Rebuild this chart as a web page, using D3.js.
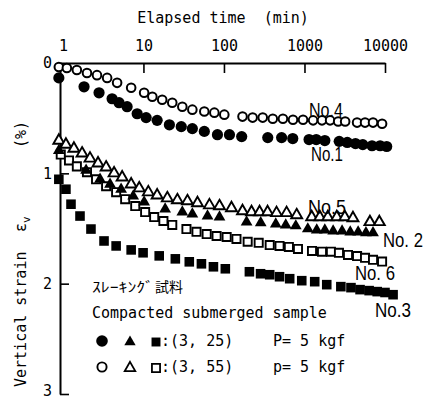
<!DOCTYPE html>
<html>
<head>
<meta charset="utf-8">
<script src="https://cdn.jsdelivr.net/npm/d3@7"></script>
<style>
  html, body { margin: 0; padding: 0; background: #fff; }
  svg { display: block; }
  .mono { font-family: "DejaVu Sans Mono", monospace; font-size: 15px; fill: #000; }
  .tag { font-family: "Liberation Sans", Arial, sans-serif; font-size: 20px; fill: #000; }
</style>
</head>
<body>
<svg id="chart" width="427" height="401"></svg>
<script>
// Elapsed time (min) and vertical strain (%) for each test
const timeNo4 = [0.89,1.12,1.49,1.99,2.65,3.54,4.71,7.04,10.2,12.9,17.1,22.8,30.4,40.5,57,76,101,170,227,303,404,540,720,960,1280,1650,2080,2620,3200,4500,5650,7100,9200];
const strainNo4 = [0.036,0.045,0.063,0.09,0.11,0.135,0.18,0.225,0.27,0.306,0.333,0.36,0.396,0.423,0.44,0.45,0.468,0.486,0.495,0.495,0.505,0.505,0.514,0.514,0.52,0.52,0.52,0.53,0.53,0.54,0.54,0.54,0.55];

const timeNo1 = [0.89,1.83,2.81,4.08,4.98,6.27,8.36,10.8,14.8,21,29.5,40.5,57,83,117,166,350,520,715,1140,1400,1790,2700,3400,4300,5300,6900,8700,10500];
const strainNo1 = [0.135,0.216,0.27,0.324,0.36,0.396,0.46,0.495,0.52,0.56,0.577,0.595,0.62,0.65,0.65,0.667,0.676,0.676,0.685,0.694,0.694,0.703,0.71,0.72,0.73,0.74,0.75,0.75,0.757];

const timeNo5 = [0.89,1.09,1.37,1.73,2.17,2.73,3.44,4.32,5.44,7.04,8.87,11.5,14.8,19.8,26.4,35.2,46.9,66,88,124,170,220,277,348,450,600,800,1230,1550,1950,2520,3170,4000,6500,8500];
const strainNo5 = [0.694,0.73,0.766,0.81,0.856,0.90,0.937,0.99,1.027,1.09,1.126,1.162,1.19,1.216,1.234,1.243,1.26,1.28,1.288,1.306,1.333,1.342,1.342,1.342,1.35,1.35,1.37,1.387,1.387,1.387,1.387,1.387,1.396,1.432,1.432];

const timeNo2 = [0.89,1.94,2.89,3.85,5.28,7.46,10.2,18.6,30.4,40.5,62.5,88,191,286,440,585,780,1100,1420,1790,2270,2930,3700,4640,5800,7100];
const strainNo2 = [0.784,0.964,1.045,1.09,1.135,1.198,1.252,1.315,1.342,1.36,1.378,1.387,1.432,1.44,1.45,1.46,1.468,1.495,1.505,1.505,1.514,1.514,1.523,1.523,1.53,1.53];

const timeNo6 = [0.94,1.19,1.49,1.99,2.58,3.44,4.58,5.93,7.91,10.5,13.6,17.7,22.8,34.2,45.6,61,81,108,143,197,270,370,490,640,830,1240,1650,2130,2680,3470,4500,5650,7100,9200];
const strainNo6 = [0.83,0.883,0.937,0.99,1.054,1.117,1.171,1.234,1.297,1.351,1.396,1.432,1.468,1.505,1.53,1.55,1.568,1.577,1.595,1.62,1.63,1.65,1.658,1.667,1.685,1.703,1.71,1.71,1.72,1.74,1.75,1.766,1.784,1.80];

const timeNo3 = [0.89,1.09,1.26,1.63,2.23,3.24,4.58,7.04,9.9,15.7,24.9,37.1,52.5,74,104,207,285,370,490,655,925,1340,1890,2830,3780,4900,6350,8000,10000,12600];
const strainNo3 = [1.054,1.144,1.28,1.387,1.505,1.613,1.658,1.694,1.72,1.748,1.775,1.802,1.82,1.847,1.865,1.892,1.91,1.919,1.937,1.955,1.973,1.982,2.009,2.027,2.036,2.054,2.063,2.072,2.08,2.1];

const timeTicks = [1, 10, 100, 1000, 10000];
const strainTicks = [0, 1, 2, 3];

const svg = d3.select("#chart");
svg.append("rect").attr("width", 427).attr("height", 401).attr("fill", "#fff");

const x = d3.scaleLog().domain([0.92, 10000]).range([60, 385]);
const y = d3.scaleLinear().domain([0, 3]).range([63, 394]);

// Top (time) axis, ticks pointing into the plot
const xAxis = svg.append("g")
  .attr("transform", `translate(0,${y(0)})`)
  .call(d3.axisTop(x).tickValues(timeTicks).tickFormat(d3.format("d"))
    .tickSizeInner(-10).tickSizeOuter(0).tickPadding(12));
xAxis.select(".domain").attr("stroke", "#000").attr("stroke-width", 2);
xAxis.selectAll(".tick line").attr("stroke", "#000").attr("stroke-width", 1.6)
  .filter(d => d === 1).remove();
xAxis.selectAll(".tick text").attr("class", "mono").attr("font-family", null).attr("font-size", null);

// Left (strain) axis, ticks pointing into the plot
const yAxis = svg.append("g")
  .attr("transform", `translate(${x.range()[0]},0)`)
  .call(d3.axisLeft(y).tickValues(strainTicks).tickFormat(d3.format("d"))
    .tickSizeInner(-9).tickSizeOuter(0).tickPadding(8));
yAxis.select(".domain").attr("stroke", "#000").attr("stroke-width", 2);
yAxis.selectAll(".tick line").attr("stroke", "#000").attr("stroke-width", 1.6)
  .filter(d => d === 0).remove();
yAxis.selectAll(".tick text").attr("class", "mono").attr("font-family", null).attr("font-size", null)
  .attr("dy", d => d === 3 ? "0.1em" : "0.32em");

// Axis titles
svg.append("text").attr("class", "mono")
  .attr("x", 223).attr("y", 23).attr("text-anchor", "middle")
  .attr("xml:space", "preserve")
  .text("Elapsed time  (min)");

const yTitle = svg.append("g").attr("transform", "translate(26,387) rotate(-90)");
yTitle.append("text").attr("class", "mono").attr("x", 0).attr("y", 0).text("Vertical strain");
const eps = yTitle.append("text").attr("class", "mono").attr("x", 155).attr("y", 0);
eps.append("tspan").text("ε");
eps.append("tspan").attr("dy", 4).attr("font-size", 11).text("v");
yTitle.append("text").attr("class", "mono").attr("x", 239).attr("y", 0).text("(%)");

// Marker helpers
const tri = (area) => d3.symbol().type(d3.symbolTriangle).size(area)();
const sq = (area) => d3.symbol().type(d3.symbolSquare).size(area)();

function drawSeries(times, strains, kind) {
  const pts = times.map((t, i) => [x(t), y(strains[i])]);
  const g = svg.append("g");
  if (kind === "circleFilled" || kind === "circleOpen") {
    const open = kind === "circleOpen";
    g.selectAll("circle").data(pts).join("circle")
      .attr("cx", d => d[0]).attr("cy", d => d[1])
      .attr("r", open ? 4.3 : 5.6)
      .attr("fill", open ? "#fff" : "#000")
      .attr("stroke", "#000").attr("stroke-width", open ? 2 : 0);
  } else {
    const open = kind.endsWith("Open");
    const path = kind.startsWith("tri") ? tri(open ? 52 : 60) : sq(open ? 66 : 92);
    g.selectAll("path").data(pts).join("path")
      .attr("transform", d => `translate(${d[0]},${d[1] + (kind.startsWith("tri") ? 1 : 0)})`)
      .attr("d", path)
      .attr("fill", open ? "#fff" : "#000")
      .attr("stroke", "#000").attr("stroke-width", open ? 1.9 : 0);
  }
}

drawSeries(timeNo4, strainNo4, "circleOpen");
drawSeries(timeNo1, strainNo1, "circleFilled");
drawSeries(timeNo5, strainNo5, "triOpen");
drawSeries(timeNo6, strainNo6, "sqOpen");
drawSeries(timeNo2, strainNo2, "triFilled");
drawSeries(timeNo3, strainNo3, "sqFilled");

// Curve labels, set in a horizontally condensed face
const curveTags = [
  { text: "No.4", x: 309, y: 117, w: 34 },
  { text: "No.1", x: 311, y: 161, w: 32 },
  { text: "No.5", x: 308, y: 214, w: 38 },
  { text: "No. 2", x: 383, y: 247, w: 40 },
  { text: "No. 6", x: 355, y: 280, w: 40 },
  { text: "No.3", x: 375, y: 317, w: 36 }
];
curveTags.forEach(d => {
  const t = svg.append("text").attr("class", "tag")
    .attr("xml:space", "preserve").text(d.text);
  const natural = t.node().getComputedTextLength();
  t.attr("transform", `translate(${d.x},${d.y}) scale(${d.w / natural},1)`);
});

// Legend
const kana = svg.append("text")
  .attr("font-family", "'Noto Sans CJK JP', sans-serif").attr("font-size", 14)
  .text("ｽﾚｰｷﾝｸﾞ");
kana.attr("transform", `translate(92,292) scale(${62 / kana.node().getComputedTextLength()},1)`);
svg.append("text")
  .attr("x", 155).attr("y", 292)
  .attr("font-family", "'Noto Sans CJK JP', sans-serif").attr("font-size", 14)
  .text("試料");

svg.append("text").attr("class", "mono").attr("x", 92).attr("y", 318)
  .text("Compacted submerged sample");

const legendRows = [
  { y: 341, open: false, ratio: ":(3, 25)", load: "P= 5 kgf" },
  { y: 367, open: true, ratio: ":(3, 55)", load: "p= 5 kgf" }
];
legendRows.forEach(r => {
  const g = svg.append("g");
  g.append("circle").attr("cx", 102).attr("cy", r.y)
    .attr("r", r.open ? 4.6 : 5.8)
    .attr("fill", r.open ? "#fff" : "#000")
    .attr("stroke", "#000").attr("stroke-width", r.open ? 1.9 : 0);
  g.append("path").attr("transform", `translate(130,${r.y + 1})`)
    .attr("d", tri(r.open ? 48 : 56))
    .attr("fill", r.open ? "#fff" : "#000")
    .attr("stroke", "#000").attr("stroke-width", r.open ? 1.8 : 0);
  g.append("path").attr("transform", `translate(156,${r.y + 1})`)
    .attr("d", sq(r.open ? 66 : 80))
    .attr("fill", r.open ? "#fff" : "#000")
    .attr("stroke", "#000").attr("stroke-width", r.open ? 1.8 : 0);
  g.append("text").attr("class", "mono").attr("x", 161).attr("y", r.y + 5)
    .attr("xml:space", "preserve").text(r.ratio);
  g.append("text").attr("class", "mono").attr("x", 273).attr("y", r.y + 5)
    .attr("xml:space", "preserve").text(r.load);
});
</script>
</body>
</html>
